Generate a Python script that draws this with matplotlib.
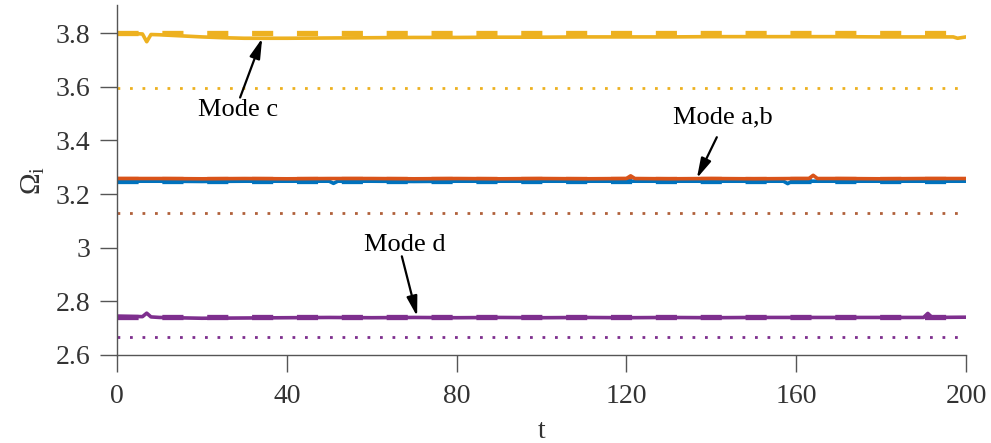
import matplotlib
matplotlib.use("Agg")
import matplotlib.pyplot as plt

# ---- data ----
t_c = [0, 3, 6, 7, 8, 10, 15, 20, 25, 30, 35, 40, 50, 60, 70, 80, 90, 100, 110, 120, 130, 140, 150, 160, 170, 180, 190, 197, 198, 200]
om_c = [3.800, 3.799, 3.797, 3.768, 3.795, 3.794, 3.790, 3.786, 3.783, 3.781, 3.781, 3.781, 3.782, 3.783, 3.784, 3.784, 3.785, 3.785, 3.786, 3.786, 3.786, 3.787, 3.787, 3.787, 3.787, 3.786, 3.786, 3.786, 3.781, 3.786]

t_a = [0, 10, 20, 30, 40, 50, 51, 52, 60, 70, 80, 90, 100, 110, 120, 130, 140, 150, 157, 158, 159, 170, 180, 190, 200]
om_a = [3.248, 3.248, 3.247, 3.248, 3.248, 3.248, 3.240, 3.248, 3.248, 3.247, 3.248, 3.248, 3.248, 3.248, 3.248, 3.248, 3.248, 3.248, 3.248, 3.239, 3.248, 3.248, 3.248, 3.248, 3.248]

t_b = [0, 10, 20, 30, 40, 50, 60, 70, 80, 90, 100, 110, 120, 121, 122, 130, 140, 150, 160, 163, 164, 165, 170, 180, 190, 200]
om_b = [3.258, 3.258, 3.257, 3.258, 3.257, 3.258, 3.258, 3.257, 3.258, 3.257, 3.258, 3.257, 3.258, 3.268, 3.258, 3.257, 3.258, 3.257, 3.258, 3.258, 3.270, 3.258, 3.258, 3.257, 3.258, 3.258]

t_d = [0, 3, 6, 7, 8, 10, 20, 30, 40, 50, 60, 70, 80, 90, 100, 110, 120, 130, 140, 150, 160, 170, 180, 190, 191, 192, 200]
om_d = [2.745, 2.744, 2.743, 2.756, 2.742, 2.740, 2.737, 2.738, 2.739, 2.740, 2.739, 2.740, 2.739, 2.740, 2.739, 2.740, 2.739, 2.740, 2.739, 2.740, 2.740, 2.740, 2.740, 2.740, 2.755, 2.740, 2.741]

t_ref = [0, 200]
dash_c = [3.800, 3.800]
dash_b = [3.258, 3.258]
dash_a = [3.249, 3.249]
dash_d = [2.742, 2.742]
dot_c = [3.596, 3.596]
dot_ab = [3.130, 3.130]
dot_d = [2.666, 2.666]

xticks = [0, 40, 80, 120, 160, 200]
yticks = [2.6, 2.8, 3.0, 3.2, 3.4, 3.6, 3.8]
yticklabels = ["2.6", "2.8", "3", "3.2", "3.4", "3.6", "3.8"]

c_blue = "#0072BD"
c_orange = "#D95319"
c_yellow = "#EDB120"
c_purple = "#7E2F8E"
c_brown = "#B0603A"

plt.rcParams['font.family'] = ['Liberation Serif', 'DejaVu Serif']
plt.rcParams['mathtext.fontset'] = 'custom'
plt.rcParams['mathtext.rm'] = 'Liberation Serif'
plt.rcParams['mathtext.it'] = 'Liberation Serif:italic'

fig = plt.figure(figsize=(9.91, 4.43), dpi=100)
ax = fig.add_axes([117/991, 1 - 355/443, (966 - 117)/991, (355 - 5)/443])

# dotted reference lines
ax.plot(t_ref, dot_c, color=c_yellow, lw=2, dashes=(1, 3.5))
ax.plot(t_ref, dot_ab, color=c_brown, lw=2, dashes=(1, 3.5))
ax.plot(t_ref, dot_d, color=c_purple, lw=2, dashes=(1, 3.5))

# dashed lines
ax.plot(t_ref, dash_c, color=c_yellow, lw=3.8, dashes=(4, 4.5))
ax.plot(t_ref, dash_a, color=c_blue, lw=3.8, dashes=(4, 4.5))
ax.plot(t_ref, dash_b, color=c_orange, lw=3.8, dashes=(4, 4.5))
ax.plot(t_ref, dash_d, color=c_purple, lw=3.8, dashes=(4, 4.5))

# solid lines
ax.plot(t_c, om_c, color=c_yellow, lw=2.6)
ax.plot(t_a, om_a, color=c_blue, lw=2.6)
ax.plot(t_b, om_b, color=c_orange, lw=2.6)
ax.plot(t_d, om_d, color=c_purple, lw=2.6)

ax.set_xlim(0, 200)
ax.set_ylim(2.6, 3.905)
ax.set_xticks(xticks)
ax.set_xticklabels([str(v) for v in xticks])
ax.set_yticks(yticks)
ax.set_yticklabels(yticklabels)

for s in ['top', 'right']:
    ax.spines[s].set_visible(False)
for s in ['left', 'bottom']:
    ax.spines[s].set_color('#555555')
    ax.spines[s].set_linewidth(1.0)
ax.tick_params(direction='out', length=12.2, width=1.0, colors='#555555',
               labelcolor='#333333', labelsize=20)
ax.tick_params(axis='x', pad=9)
ax.tick_params(axis='y', pad=7)

ax.set_xlabel('t', fontsize=20, color='#333333', labelpad=7)
ax.set_ylabel(r'$\Omega_\mathrm{i}$', fontsize=21, color='#333333', labelpad=6)

ap = dict(arrowstyle='-|>,head_length=0.6,head_width=0.16', color='black', lw=1.6,
          mutation_scale=20, shrinkA=0, shrinkB=0)
ax.annotate('', xy=(34.2, 3.781), xytext=(29.0, 3.560), arrowprops=ap)
ax.text(28.5, 3.513, 'Mode c', fontsize=19, ha='center', va='center', color='black')

ax.annotate('', xy=(136.6, 3.259), xytext=(141.3, 3.412), arrowprops=ap)
ax.text(142.8, 3.487, 'Mode a,b', fontsize=19, ha='center', va='center', color='black')

ax.annotate('', xy=(70.7, 2.744), xytext=(67.1, 2.968), arrowprops=ap)
ax.text(67.8, 3.009, 'Mode d', fontsize=19, ha='center', va='center', color='black')

fig.savefig('out.png', dpi=100)
